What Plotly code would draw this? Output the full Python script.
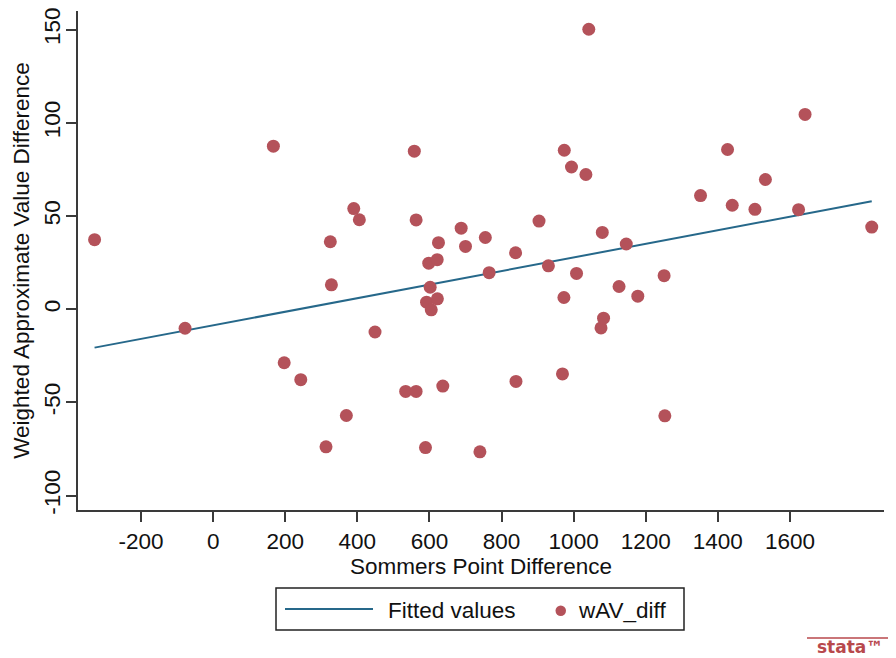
import plotly.graph_objects as go

# --- data ---
sommers_diff = [-329, -78, 167, 197, 243, 313, 325, 328, 369.5, 390, 405.5, 449,
                534, 558, 563, 563, 589, 592, 598, 602, 605, 621.5, 622, 625, 637,
                688, 700, 740, 755, 765.6, 839, 840, 904, 930, 969, 973, 974, 994,
                1008, 1034, 1042, 1076, 1079.5, 1083, 1126, 1146, 1178, 1251, 1253,
                1352, 1427, 1440, 1503, 1532, 1624, 1642, 1827]
wav_diff = [37.3, -10.2, 87.5, -28.7, -37.8, -73.8, 36.2, 13.1, -57, 54, 48, -12.2,
            -44.1, 84.8, 47.9, -44.1, -74.2, 3.8, 24.7, 11.8, -0.3, 26.6, 5.6, 35.7, -41.2,
            43.5, 33.7, -76.5, 38.5, 19.6, 30.3, -38.7, 47.3, 23.3, -34.7, 6.3, 85.3, 76.3,
            19.2, 72.3, 150.2, -10, 41.2, -4.8, 12.2, 35, 7, 18, -57.2,
            61, 85.7, 55.8, 53.6, 69.6, 53.4, 104.5, 44.1]
fit_x = [-329, 1827]
fit_y = [-20.6, 57.9]
x_ticks = [-200, 0, 200, 400, 600, 800, 1000, 1200, 1400, 1600]
y_ticks = [-100, -50, 0, 50, 100, 150]

LINE_COLOR = "#26688a"
DOT_COLOR = "#b4525a"
FONT = "Liberation Sans, Arial, sans-serif"
FS = 22.5

# page has an 8px body margin, so the figure is drawn 8px smaller and offset
OFF = 8
W, H = 896 - OFF, 658 - OFF
PLOT_X0, PLOT_X1, PLOT_Y0, PLOT_Y1 = 78, 884, 11, 510  # reference pixel box of the plot area
L, R, T, B = PLOT_X0 - OFF, W - (PLOT_X1 - OFF), PLOT_Y0 - OFF, H - (PLOT_Y1 - OFF)
PW, PH = PLOT_X1 - PLOT_X0, PLOT_Y1 - PLOT_Y0


def px(xp):
    return (xp - PLOT_X0) / PW


def py(yp):
    return (PLOT_Y1 - yp) / PH


fig = go.Figure()
fig.add_trace(go.Scatter(x=fit_x, y=fit_y, mode="lines", name="Fitted values",
                         line=dict(color=LINE_COLOR, width=2), showlegend=False))
fig.add_trace(go.Scatter(x=sommers_diff, y=wav_diff, mode="markers", name="wAV_diff",
                         marker=dict(color=DOT_COLOR, size=13, line=dict(width=0)),
                         showlegend=False))

axis_common = dict(showgrid=False, zeroline=False, showline=True, linecolor="#3a3a3a",
                   linewidth=1.5, ticks="outside", ticklen=10, tickwidth=1.5,
                   tickcolor="#3a3a3a", automargin=False, ticklabeloverflow="allow",
                   tickfont=dict(family=FONT, size=FS, color="#111"))

fig.update_xaxes(range=[-375, 1861], tickvals=x_ticks, ticktext=[str(v) for v in x_ticks],
                 title=dict(text="Sommers Point Difference", standoff=0,
                            font=dict(family=FONT, size=FS, color="#111")),
                 **axis_common)
fig.update_yaxes(range=[-107.7, 160], tickvals=y_ticks, ticktext=[str(v) for v in y_ticks],
                 tickangle=-90, ticklabelstandoff=-3,
                 title=dict(text="Weighted Approximate Value Difference", standoff=4,
                            font=dict(family=FONT, size=FS, color="#111")),
                 **axis_common)

shapes = [
    # legend box
    dict(type="rect", xref="paper", yref="paper", x0=px(276), x1=px(684), y0=py(630), y1=py(588),
         line=dict(color="#222", width=1.5), fillcolor="white"),
    # legend line sample
    dict(type="line", xref="paper", yref="paper", x0=px(285), x1=px(373), y0=py(609), y1=py(609),
         line=dict(color=LINE_COLOR, width=2)),
    # legend marker sample
    dict(type="circle", xref="paper", yref="paper", x0=px(555.5), x1=px(566), y0=py(605.5), y1=py(616),
         line=dict(width=0), fillcolor=DOT_COLOR),
    # stata logo rule
    dict(type="line", xref="paper", yref="paper", x0=px(807), x1=px(893), y0=py(638), y1=py(638),
         line=dict(color="#b8484c", width=1.5)),
]
annotations = [
    dict(text="Fitted values", xref="paper", yref="paper", x=px(386), y=py(610), xanchor="left",
         yanchor="middle", showarrow=False, font=dict(family=FONT, size=FS, color="#111")),
    dict(text="wAV_diff", xref="paper", yref="paper", x=px(576), y=py(610), xanchor="left",
         yanchor="middle", showarrow=False, font=dict(family=FONT, size=FS, color="#111")),
    dict(text="<b>stata™</b>", xref="paper", yref="paper", x=px(850), y=py(647), xanchor="center",
         yanchor="middle", showarrow=False, font=dict(family="DejaVu Sans", size=17, color="#b8484c")),
]

fig.update_layout(width=W, height=H, margin=dict(l=L, r=R, t=T, b=B, pad=0, autoexpand=False),
                  paper_bgcolor="white", plot_bgcolor="white", showlegend=False,
                  shapes=shapes, annotations=annotations)

fig.write_html("out.html")
